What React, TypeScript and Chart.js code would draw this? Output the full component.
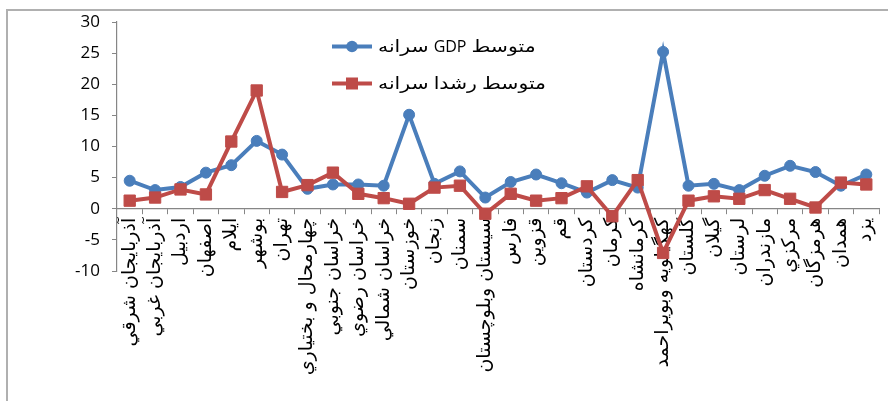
import React, { useEffect, useRef } from "react";
import { Chart, registerables } from "chart.js";

Chart.register(...registerables);

const categories = [
  "آذربایجان شرقي",
  "آذربایجان غربي",
  "اردبیل",
  "اصفهان",
  "ایلام",
  "بوشهر",
  "تهران",
  "چهارمحال و بختیاري",
  "خراسان جنوبي",
  "خراسان رضوي",
  "خراسان شمالي",
  "خوزستان",
  "زنجان",
  "سمنان",
  "سیستان وبلوچستان",
  "فارس",
  "قزوین",
  "قم",
  "کردستان",
  "کرمان",
  "کرمانشاه",
  "کهگیلویه وبویراحمد",
  "گلستان",
  "گیلان",
  "لرستان",
  "مازندران",
  "مرکزي",
  "هرمزگان",
  "همدان",
  "یزد",
];

const gdpPerCapita = [
  4.5, 3.0, 3.5, 5.8, 7.0, 10.9, 8.7, 3.2, 3.9, 3.9, 3.7, 15.1, 4.0, 6.0, 1.8,
  4.3, 5.5, 4.1, 2.6, 4.6, 3.4, 25.2, 3.7, 4.0, 3.0, 5.3, 6.9, 5.9, 3.7, 5.5,
];

const growthPerCapita = [
  1.3, 1.8, 3.1, 2.3, 10.8, 19.0, 2.7, 3.8, 5.8, 2.4, 1.7, 0.8, 3.4, 3.7, -0.8,
  2.4, 1.3, 1.7, 3.6, -1.2, 4.6, -7.1, 1.3, 2.0, 1.6, 3.0, 1.6, 0.2, 4.2, 3.9,
];

const seriesLabels = ["متوسط GDP سرانه", "متوسط رشدا سرانه"];

const yMin = -10;
const yMax = 30;
const yStep = 5;

const BLUE = "#4A7EBB";
const RED = "#BE4B48";
const AXIS = "#868686";
const FONT = "'Open Sans', 'DejaVu Sans', sans-serif";
const AR_FONT = "'DejaVu Sans', sans-serif";

const insideLegend = {
  id: "insideLegend",
  afterDraw(chart: any) {
    const ctx = chart.ctx as CanvasRenderingContext2D;
    const rows = [46.5, 83.5];
    const lineX1 = 332;
    const lineX2 = 372;
    const markX = 352;
    const textX = 378;
    const sx = 1.2;
    const gap = 5;
    [0, 1].forEach((i, r) => {
      const ds = chart.data.datasets[i];
      const y = rows[r];
      ctx.save();
      ctx.strokeStyle = ds.borderColor;
      ctx.lineWidth = 4;
      ctx.beginPath();
      ctx.moveTo(lineX1, y);
      ctx.lineTo(lineX2, y);
      ctx.stroke();
      ctx.fillStyle = ds.backgroundColor;
      if (ds.pointStyle === "rect") {
        ctx.fillRect(markX - 6, y - 6, 12, 12);
      } else {
        ctx.beginPath();
        ctx.arc(markX, y, 5.8, 0, Math.PI * 2);
        ctx.fill();
      }
      ctx.fillStyle = "#000";
      ctx.textAlign = "left";
      ctx.textBaseline = "alphabetic";
      const words = String(ds.label).split(" ").reverse();
      let x = textX;
      words.forEach((w: string) => {
        const latin = /[A-Za-z]/.test(w);
        const scale = latin ? 1 : sx;
        ctx.font = latin ? `16px 'Open Sans', sans-serif` : `17px ${AR_FONT}`;
        (ctx as any).direction = latin ? "ltr" : "rtl";
        const width = ctx.measureText(w).width * scale;
        ctx.save();
        ctx.translate(x, y + 5);
        ctx.scale(scale, 1);
        ctx.fillText(w, 0, 0);
        ctx.restore();
        x += width + gap;
      });
      ctx.restore();
    });
  },
};

export default function App() {
  const canvasRef = useRef<HTMLCanvasElement | null>(null);

  useEffect(() => {
    if (!canvasRef.current) return;
    const chart = new Chart(canvasRef.current, {
      type: "line",
      data: {
        labels: categories,
        datasets: [
          {
            label: seriesLabels[0],
            data: gdpPerCapita,
            borderColor: BLUE,
            backgroundColor: BLUE,
            pointBackgroundColor: BLUE,
            pointBorderColor: BLUE,
            borderWidth: 4,
            pointStyle: "circle",
            pointRadius: 5.5,
            pointBorderWidth: 1,
            tension: 0,
            order: 1,
          },
          {
            label: seriesLabels[1],
            data: growthPerCapita,
            borderColor: RED,
            backgroundColor: RED,
            pointBackgroundColor: RED,
            pointBorderColor: RED,
            borderWidth: 4,
            pointStyle: "rect",
            pointRadius: 8,
            pointBorderWidth: 1,
            tension: 0,
            order: 0,
          },
        ],
      },
      options: {
        responsive: false,
        animation: false,
        layout: { padding: { left: 0, top: 22, right: 4, bottom: 130 } },
        plugins: {
          legend: { display: false },
          tooltip: { enabled: false },
        },
        scales: {
          x: {
            type: "category",
            position: { y: 0 } as any,
            offset: true,
            grid: {
              display: true,
              drawOnChartArea: false,
              drawTicks: true,
              tickLength: 5,
              offset: true,
              color: AXIS,
            },
            border: { display: true, color: AXIS, width: 1.2 },
            ticks: {
              autoSkip: false,
              maxRotation: 90,
              minRotation: 90,
              padding: 4,
              color: "#000",
              font: { family: AR_FONT, size: 19 },
            },
            afterFit: (s: any) => {
              s.paddingLeft = 0;
              s.paddingRight = 0;
              s.paddingTop = 0;
              s.paddingBottom = 0;
            },
          },
          y: {
            min: yMin,
            max: yMax,
            ticks: {
              stepSize: yStep,
              padding: 12,
              color: "#000",
              font: { family: FONT, size: 17 },
            },
            grid: {
              drawOnChartArea: false,
              drawTicks: true,
              tickLength: 5,
              color: AXIS,
            },
            border: { display: true, color: AXIS, width: 1.2 },
            afterFit: (s: any) => {
              s.width = 117;
              s.paddingTop = 0;
              s.paddingBottom = 0;
              s.paddingLeft = 0;
              s.paddingRight = 0;
            },
          },
        },
      },
      plugins: [insideLegend],
    });
    return () => chart.destroy();
  }, []);

  return (
    <div
      style={{
        position: "fixed",
        left: 0,
        top: 0,
        width: 888,
        height: 401,
        overflow: "hidden",
        background: "#fff",
      }}
    >
      <div
        style={{
          position: "absolute",
          left: 6,
          top: 9,
          width: 1000,
          height: 1000,
          border: "2px solid #b0b0b0",
        }}
      />
      <canvas
        ref={canvasRef}
        width={888}
        height={401}
        style={{ position: "absolute", left: 0, top: 0, width: 888, height: 401 }}
      />
    </div>
  );
}
